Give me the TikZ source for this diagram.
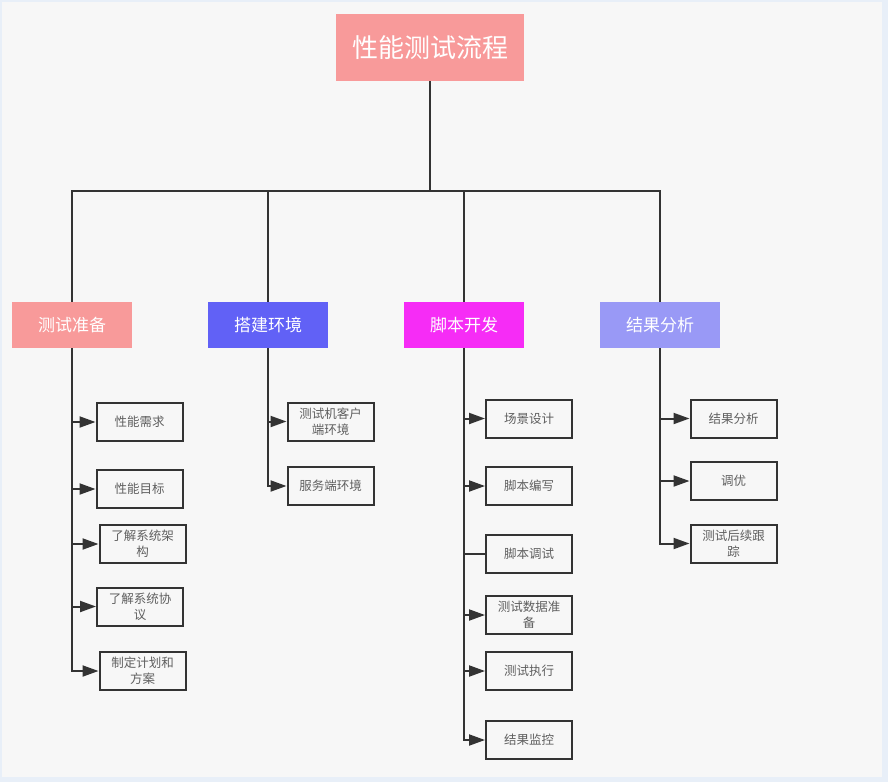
\documentclass[tikz,border=0pt]{standalone}
\usepackage{fontspec}
\usepackage{tikz}
\usetikzlibrary{arrows.meta}
\newfontfamily\cjk{Noto Sans CJK SC}

\definecolor{pinkbox}{RGB}{248,154,154}
\definecolor{bluebox}{RGB}{97,97,246}
\definecolor{magbox}{RGB}{246,44,246}
\definecolor{lavbox}{RGB}{153,153,246}
\definecolor{linegray}{RGB}{51,51,51}
\definecolor{textgray}{RGB}{95,95,95}
\definecolor{paper}{RGB}{247,247,247}
\definecolor{frame}{RGB}{232,239,248}

\begin{document}
\begin{tikzpicture}[x=1pt,y=-1pt,
  title/.style={fill=pinkbox,text=white,minimum width=188pt,minimum height=67pt,inner sep=0pt,font=\cjk\fontsize{26}{30}\selectfont},
  phase/.style={minimum width=120pt,minimum height=46pt,inner sep=0pt,text=white,font=\cjk\fontsize{17}{20}\selectfont},
  task/.style={draw=linegray,line width=2pt,fill=paper,minimum width=86pt,minimum height=38pt,inner sep=0pt,align=center,text=textgray,font=\cjk\fontsize{12.5}{16}\selectfont},
  tree/.style={draw=linegray,line width=2pt},
  feed/.style={tree,-{Triangle[length=16pt,width=11pt]}}]
\useasboundingbox (0,0) rectangle (888,782);
% background
\fill[frame] (0,0) rectangle (888,782);
\fill[paper] (2,2) rectangle (882,777);

% top
\node[title] (flow) at (430,47.5) {性能测试流程};
\coordinate (bus) at (430,191);

% phases
\node[phase,fill=pinkbox] (prep) at (72,325) {测试准备};
\node[phase,fill=bluebox] (env) at (268,325) {搭建环境};
\node[phase,fill=magbox] (script) at (464,325) {脚本开发};
\node[phase,fill=lavbox] (result) at (660,325) {结果分析};

\draw[tree] (flow) -- (bus);
\draw[tree] (prep.north) |- (bus) -| (result.north);
\draw[tree] (env.north) -- (env.north |- bus);
\draw[tree] (script.north) -- (script.north |- bus);

% 测试准备
\node[task] (prep1) at (139.5,422) {性能需求};
\node[task] (prep2) at (139.5,489) {性能目标};
\node[task] (prep3) at (142.5,544) {了解系统架\\构};
\node[task] (prep4) at (140,606.5) {了解系统协\\议};
\node[task] (prep5) at (142.5,671) {制定计划和\\方案};
\foreach \i in {1,...,5}
  \draw[feed] (prep.south) |- (prep\i.west);

% 搭建环境
\node[task] (env1) at (330.5,421.5) {测试机客户\\端环境};
\node[task] (env2) at (330.5,486) {服务端环境};
\foreach \i in {1,2}
  \draw[feed] (env.south) |- (env\i.west);

% 脚本开发
\node[task] (script1) at (529,418.5) {场景设计};
\node[task] (script2) at (529,486) {脚本编写};
\node[task] (script3) at (529,554) {脚本调试};
\node[task] (script4) at (529,615) {测试数据准\\备};
\node[task] (script5) at (529,671) {测试执行};
\node[task] (script6) at (529,740) {结果监控};
\foreach \i in {1,2,4,5,6}
  \draw[feed] (script.south) |- (script\i.west);
\draw[tree] (script.south) |- (script3.west);

% 结果分析
\node[task] (result1) at (733.5,418.5) {结果分析};
\node[task] (result2) at (733.5,481) {调优};
\node[task] (result3) at (733.5,543.5) {测试后续跟\\踪};
\foreach \i in {1,2,3}
  \draw[feed] (result.south) |- (result\i.west);

\end{tikzpicture}
\end{document}
